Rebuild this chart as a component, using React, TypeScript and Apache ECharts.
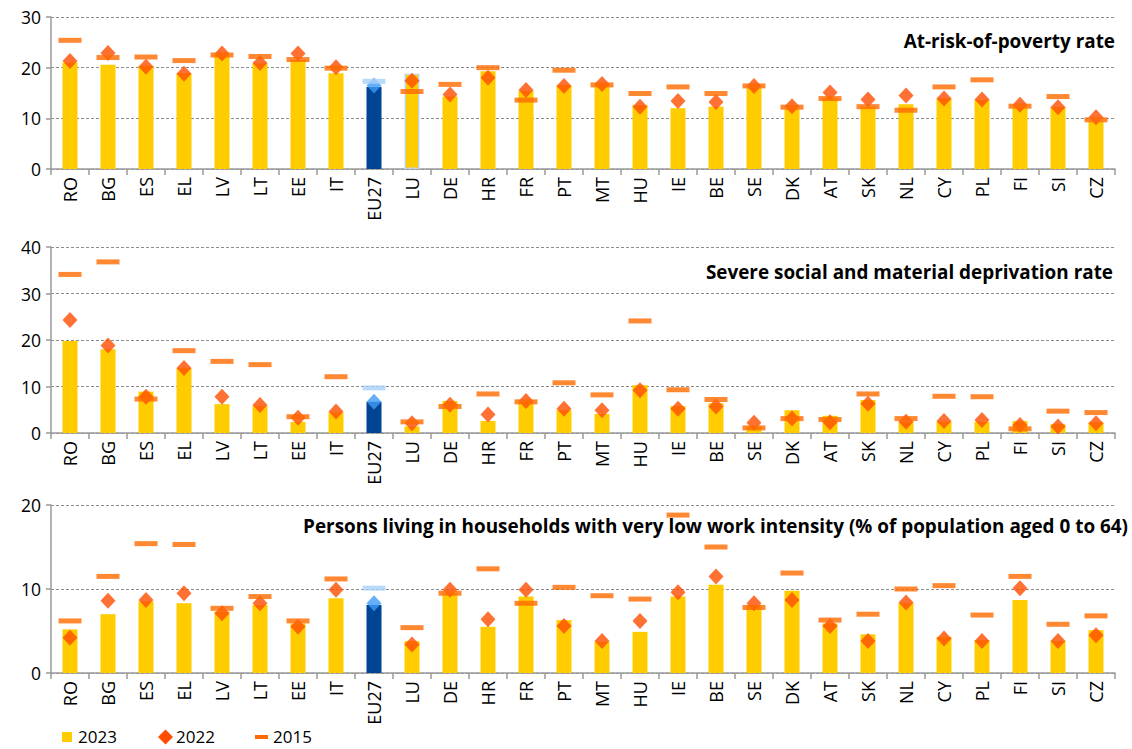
import React, { useEffect, useRef } from "react";
import * as echarts from "echarts";

const categories = ["RO","BG","ES","EL","LV","LT","EE","IT","EU27","LU","DE","HR","FR","PT","MT","HU","IE","BE","SE","DK","AT","SK","NL","CY","PL","FI","SI","CZ"];

const poverty2023 = [21.0,20.6,20.4,18.9,22.5,20.8,21.5,18.9,16.2,18.8,14.3,19.3,15.4,16.6,16.6,12.6,12.0,12.3,16.0,11.9,14.0,12.3,12.8,13.9,13.6,12.2,12.2,9.4];
const poverty2022 = [21.3,22.9,20.2,18.8,22.8,20.9,22.8,20.1,16.5,17.4,14.7,18.0,15.6,16.4,16.8,12.3,13.4,13.2,16.4,12.4,15.1,13.7,14.5,13.9,13.7,12.7,12.2,10.2];
const poverty2015 = [25.4,22.0,22.1,21.4,22.5,22.2,21.6,19.9,17.3,15.3,16.7,20.0,13.6,19.5,16.6,14.9,16.2,14.9,16.4,12.2,13.9,12.3,11.6,16.2,17.6,12.4,14.3,9.7];

const depriv2023 = [19.8,18.0,8.9,13.9,6.2,5.8,2.4,4.4,6.7,1.4,6.9,2.6,6.6,4.9,4.1,10.3,5.8,6.4,1.4,4.9,3.7,7.1,2.4,2.4,2.4,2.6,1.9,2.3];
const depriv2022 = [24.3,18.8,7.8,14.0,7.8,6.0,3.3,4.6,6.7,2.1,6.1,4.0,6.9,5.2,4.9,9.2,5.2,5.7,2.2,3.1,2.3,6.3,2.4,2.6,2.8,1.7,1.4,2.1];
const depriv2015 = [34.1,36.8,7.3,17.7,15.4,14.7,3.5,12.1,9.7,2.4,5.7,8.4,6.7,10.8,8.2,24.1,9.3,7.2,1.1,3.1,2.9,8.4,3.1,7.9,7.8,0.9,4.7,4.4];

const work2023 = [5.2,7.0,8.5,8.3,7.3,8.1,5.9,8.9,8.1,3.8,9.5,5.5,9.1,6.3,3.7,4.9,9.1,10.5,8.1,9.8,5.9,4.6,8.3,4.3,3.9,8.7,3.8,5.1];
const work2022 = [4.2,8.6,8.7,9.5,7.1,8.3,5.5,9.9,8.3,3.4,9.9,6.4,9.9,5.6,3.8,6.2,9.6,11.5,8.3,8.7,5.6,3.8,8.4,4.1,3.8,10.1,3.8,4.5];
const work2015 = [6.2,11.5,15.4,15.3,7.7,9.1,6.2,11.2,10.1,5.4,9.5,12.4,8.3,10.2,9.2,8.8,18.8,15.0,7.8,11.9,6.3,7.0,10.0,10.4,6.9,11.5,5.8,6.8];

const panelTitles = [
  "At-risk-of-poverty rate",
  "Severe social and material deprivation rate",
  "Persons living in households with very low work intensity (% of population aged 0 to 64)",
];
const yMax = [30, 40, 20];
const legendNames = ["2023", "2022", "2015"];

const FONT = "'Open Sans', sans-serif";
const YELLOW = "#FFCC00";
const EU_BLUE = "#004494";
const DIAMOND = "#FF4E00";
const DIAMOND_EU = "#3D9BF5";
const DASH = "#FF6A00";
const DASH_EU = "#A9D1F7";

const grids = [
  { left: 51, right: 17, top: 17, height: 152 },
  { left: 51, right: 17, top: 247, height: 186 },
  { left: 51, right: 17, top: 505, height: 168 },
];
const titlePos = [
  { x: 1115, y: 41 },
  { x: 1113, y: 272 },
  { x: 1128, y: 526 },
];

export default function App() {
  const ref = useRef<HTMLDivElement>(null);
  useEffect(() => {
    if (!ref.current) return;
    const chart = echarts.init(ref.current, undefined, { renderer: "svg" });
    const panels = [
      [poverty2023, poverty2022, poverty2015],
      [depriv2023, depriv2022, depriv2015],
      [work2023, work2022, work2015],
    ];
    const series: any[] = [];
    panels.forEach((p, i) => {
      series.push({
        name: legendNames[0],
        type: "bar",
        xAxisIndex: i,
        yAxisIndex: i,
        barWidth: 15,
        z: 2,
        data: p[0].map((v, k) => {
          const item: any = { value: v, itemStyle: { color: categories[k] === "EU27" ? EU_BLUE : YELLOW } };
          if (i === 0 && categories[k] === "LU") {
            item.itemStyle.borderColor = "#C3D3E4";
            item.itemStyle.borderWidth = 1.5;
          }
          return item;
        }),
      });
      series.push({
        name: legendNames[1],
        type: "scatter",
        xAxisIndex: i,
        yAxisIndex: i,
        symbol: "diamond",
        symbolSize: [15, 16],
        z: 3,
        data: p[1].map((v, k) => ({ value: v, itemStyle: { color: categories[k] === "EU27" ? DIAMOND_EU : DIAMOND } })),
      });
      series.push({
        name: legendNames[2],
        type: "scatter",
        xAxisIndex: i,
        yAxisIndex: i,
        symbol: "rect",
        symbolSize: [23, 5],
        z: 4,
        data: p[2].map((v, k) => ({ value: v, itemStyle: { color: categories[k] === "EU27" ? DASH_EU : DASH } })),
      });
    });

    const graphic: any[] = [];
    panelTitles.forEach((t, i) => {
      graphic.push({
        type: "text",
        x: titlePos[i].x,
        y: titlePos[i].y,
        style: {
          text: t,
          textAlign: "right",
          textVerticalAlign: "middle",
          fontFamily: FONT,
          fontWeight: "bold",
          fontSize: 18.9,
          fill: "#000",
        },
      });
    });
    // legend
    const ly = 737;
    graphic.push({ type: "rect", shape: { x: 62, y: ly - 5, width: 10, height: 10 }, style: { fill: YELLOW } });
    graphic.push({ type: "polygon", shape: { points: [[165.5, ly - 7.5], [173, ly], [165.5, ly + 7.5], [158, ly]] }, style: { fill: DIAMOND } });
    graphic.push({ type: "rect", shape: { x: 255, y: ly - 2, width: 13, height: 4 }, style: { fill: DASH } });
    [[78, "2023"], [176, "2022"], [273, "2015"]].forEach(([x, t]) => {
      graphic.push({
        type: "text",
        x: x as number,
        y: 736,
        style: {
          text: t as string,
          textAlign: "left",
          textVerticalAlign: "middle",
          fontFamily: FONT,
          fontSize: 17,
          lineHeight: 17,
          fill: "#000",
        },
      });
    });

    chart.setOption({
      animation: false,
      backgroundColor: "#fff",
      grid: grids.map((g) => ({ ...g, containLabel: false })),
      xAxis: grids.map((_, i) => ({
        type: "category",
        gridIndex: i,
        data: categories,
        axisLine: { show: true, lineStyle: { color: "#9a9a9a", width: 1.5 } },
        axisTick: { show: true, length: 6, lineStyle: { color: "#9a9a9a", width: 1.5 } },
        axisLabel: { interval: 0, rotate: 90, fontSize: 18, fontFamily: FONT, color: "#000", margin: 8 },
        splitLine: { show: false },
      })),
      yAxis: grids.map((_, i) => ({
        type: "value",
        gridIndex: i,
        min: 0,
        max: yMax[i],
        interval: 10,
        axisLine: { show: true, lineStyle: { color: "#9a9a9a", width: 1.5 } },
        axisTick: { show: true, length: 5, lineStyle: { color: "#9a9a9a", width: 1.5 } },
        axisLabel: { fontSize: 17.5, fontFamily: FONT, color: "#000", margin: 10 },
        splitLine: { show: true, lineStyle: { color: "#8c8c8c", type: [3, 2], width: 1 } },
      })),
      series,
      graphic,
    });
    return () => chart.dispose();
  }, []);
  return (
    <div
      ref={ref}
      style={{ position: "absolute", left: 0, top: 0, width: 1132, height: 749, background: "#fff" }}
    />
  );
}
